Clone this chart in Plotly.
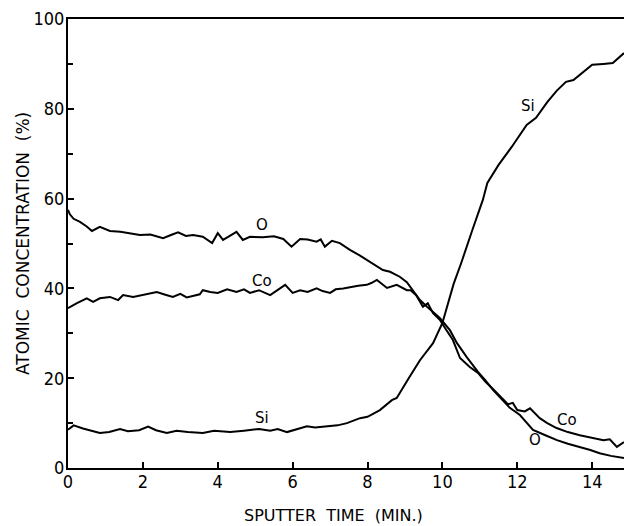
import plotly.graph_objects as go

# Sputter depth profile: atomic concentration vs sputter time
o_time = [0, 0.05, 0.15, 0.32, 0.5, 0.64, 0.85, 1.12, 1.4, 1.7, 1.92, 2.2, 2.54, 2.75, 2.94,
          3.15, 3.34, 3.6, 3.85, 4.0, 4.14, 4.3, 4.5, 4.67, 4.86, 5.2, 5.5, 5.75, 5.97, 6.2,
          6.4, 6.64, 6.75, 6.86, 7.05, 7.26, 7.53, 7.8, 8.06, 8.41, 8.6, 8.86, 9.05, 9.2,
          9.4, 9.59, 9.93, 10.2, 10.39, 10.65, 10.95, 11.15, 11.35, 11.6, 11.8, 12.07,
          12.25, 12.42, 12.75, 13.06, 13.35, 13.67, 13.95, 14.2, 14.5, 14.85]
o_conc = [57.5, 56.5, 55.5, 54.8, 53.8, 52.8, 53.7, 52.8, 52.6, 52.2, 51.9, 52.0, 51.2, 51.9,
          52.5, 51.7, 51.9, 51.5, 50.1, 52.3, 50.8, 51.6, 52.6, 50.8, 51.5, 51.4, 51.6, 51.0,
          49.3, 51.0, 50.9, 50.4, 50.9, 49.3, 50.6, 50.1, 48.6, 47.3, 45.9, 44.1, 43.7, 42.6,
          41.4, 39.6, 37.4, 35.9, 33.4, 30.7, 27.8, 24.7, 21.4, 19.5, 17.4, 15.2, 13.4, 11.8,
          10.0, 8.5, 7.3, 6.2, 5.4, 4.7, 4.0, 3.3, 2.7, 2.2]

co_time = [0, 0.1, 0.24, 0.5, 0.67, 0.85, 1.12, 1.34, 1.47, 1.74, 2.05, 2.37, 2.6, 2.8, 3.0,
           3.17, 3.52, 3.6, 3.8, 4.0, 4.25, 4.5, 4.7, 4.86, 5.1, 5.4, 5.8, 6.0, 6.2, 6.4,
           6.64, 6.8, 7.0, 7.15, 7.35, 7.53, 7.75, 7.98, 8.1, 8.25, 8.52, 8.78, 9.05, 9.15,
           9.3, 9.48, 9.61, 9.75, 9.93, 10.1, 10.28, 10.47, 10.73, 10.95, 11.15, 11.35, 11.6,
           11.75, 11.88, 12.0, 12.2, 12.34, 12.6, 12.8, 13.05, 13.35, 13.67, 14.0, 14.3,
           14.47, 14.66, 14.85]
co_conc = [35.6, 36.0, 36.7, 37.8, 37.0, 37.8, 38.1, 37.4, 38.5, 38.1, 38.6, 39.2, 38.6, 38.1,
           38.8, 38.0, 38.7, 39.6, 39.2, 39.0, 39.8, 39.2, 39.8, 39.0, 39.6, 38.5, 40.8, 39.0,
           39.6, 39.2, 40.0, 39.4, 39.0, 39.8, 40.0, 40.3, 40.6, 40.8, 41.2, 41.9, 40.1, 40.8,
           39.6, 39.6, 38.5, 35.9, 36.7, 34.5, 33.0, 30.8, 28.5, 24.5, 22.5, 21.2, 19.2, 17.6,
           15.5, 14.2, 14.5, 12.9, 12.6, 13.3, 11.1, 10.0, 8.9, 8.0, 7.3, 6.7, 6.2, 6.4, 4.7,
           5.8]

si_time = [0, 0.15, 0.4, 0.85, 1.1, 1.39, 1.6, 1.9, 2.14, 2.35, 2.64, 2.9, 3.2, 3.6, 3.9, 4.33,
           4.7, 5.1, 5.4, 5.6, 5.85, 6.1, 6.38, 6.6, 6.9, 7.2, 7.45, 7.8, 8.0, 8.33, 8.65, 8.78,
           9.1, 9.4, 9.75, 10.0, 10.3, 10.5, 10.8, 11.08, 11.2, 11.5, 11.85, 12.25, 12.5, 12.8,
           13.05, 13.3, 13.5, 13.75, 14.0, 14.3, 14.55, 14.85]
si_conc = [8.5, 9.5, 8.8, 7.8, 8.0, 8.7, 8.2, 8.4, 9.2, 8.4, 7.8, 8.3, 8.0, 7.8, 8.3, 8.0, 8.3,
           8.7, 8.3, 8.7, 8.0, 8.6, 9.3, 9.0, 9.3, 9.5, 10.0, 11.1, 11.4, 12.9, 15.1, 15.6, 20.0,
           24.0, 27.8, 32.3, 41.0, 45.6, 53.0, 59.7, 63.5, 67.5, 71.5, 76.4, 78.0, 81.5, 84.0,
           86.0, 86.4, 88.2, 89.8, 90.0, 90.2, 92.4]

# Curve labels: (text, x, y)
curve_labels = [("O", 5.18, 54.2), ("Co", 5.18, 41.6), ("Si", 5.18, 11.2),
                ("Si", 12.28, 80.6), ("Co", 13.32, 10.6), ("O", 12.47, 6.2)]

x_ticks = [0, 2, 4, 6, 8, 10, 12, 14]
y_ticks = [0, 20, 40, 60, 80, 100]

FONT = "Liberation Sans Narrow, DejaVu Sans Condensed, Arial Narrow, sans-serif"
TITLE_FONT = "DejaVu Sans, sans-serif"

fig = go.Figure()
for xs, ys in [(o_time, o_conc), (co_time, co_conc), (si_time, si_conc)]:
    fig.add_trace(go.Scatter(x=xs, y=ys, mode="lines",
                             line=dict(color="black", width=2), showlegend=False,
                             hoverinfo="skip"))

for text, x, y in curve_labels:
    fig.add_annotation(x=x, y=y, text=text, showarrow=False,
                       font=dict(family=TITLE_FONT, size=15, color="black"))

fig.add_annotation(xref="paper", yref="paper", x=0.477, y=-0.105,
                   xanchor="center", yanchor="middle",
                   text="SPUTTER  TIME  (MIN.)", showarrow=False,
                   font=dict(family=TITLE_FONT, size=16, color="black"))
fig.add_annotation(xref="paper", yref="paper", x=-0.081, y=0.501,
                   xanchor="center", yanchor="middle",
                   text="ATOMIC  CONCENTRATION  (%)", showarrow=False, textangle=-90,
                   font=dict(family=TITLE_FONT, size=17, color="black"))

fig.update_layout(
    width=624, height=526,
    margin=dict(l=68, r=0, t=19, b=58),
    paper_bgcolor="white", plot_bgcolor="white",
    font=dict(family=FONT, size=18, color="black"),
    xaxis=dict(range=[0, 14.85], tickvals=x_ticks, ticktext=[str(v) for v in x_ticks],
               ticks="inside", ticklen=6, tickwidth=1.5, tickcolor="black",
               showline=True, linecolor="black", linewidth=2, mirror=True,
               showgrid=False, zeroline=False, ticklabelstandoff=-4),
    yaxis=dict(range=[0, 100], tickvals=y_ticks, ticktext=[str(v) for v in y_ticks],
               ticks="inside", ticklen=6, tickwidth=1.5, tickcolor="black",
               minor=dict(tickvals=[10, 30, 50, 70, 90], ticks="inside", ticklen=5,
                          tickcolor="black", tickwidth=1.5),
               showline=True, linecolor="black", linewidth=2,
               showgrid=False, zeroline=False, ticklabelstandoff=-2),
)

fig.write_html("out.html")
